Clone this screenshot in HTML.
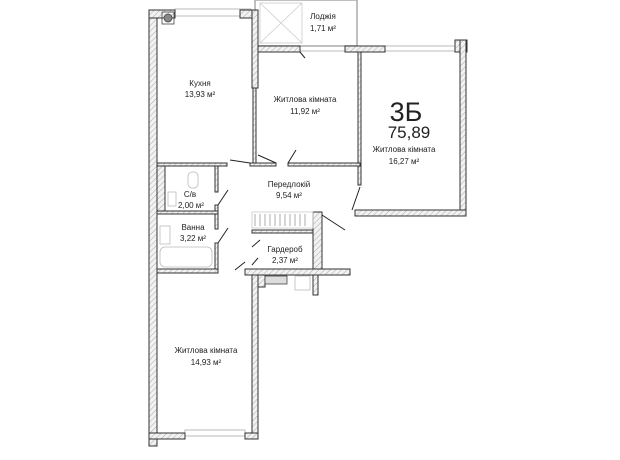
<!DOCTYPE html>
<html><head><meta charset="utf-8"><style>
html,body{margin:0;padding:0;background:#fff;}
svg{display:block}
text{font-family:"Liberation Sans",sans-serif;fill:#222;text-anchor:middle}
</style></head><body>
<svg width="620" height="460" viewBox="0 0 620 460" xmlns="http://www.w3.org/2000/svg">
<defs>
<pattern id="h" width="4" height="4" patternUnits="userSpaceOnUse" patternTransform="rotate(45)">
<rect width="4" height="4" fill="#f2f2f2"/><line x1="0" y1="0" x2="0" y2="4" stroke="#aaa" stroke-width="1"/></pattern>
</defs>
<g stroke="#555" stroke-width="0.8" fill="none">
<rect x="255" y="0" width="102" height="46" stroke="#aaa" stroke-width="1.5"/>
<rect x="260" y="3" width="42" height="40" stroke="#ccc"/>
<line x1="260" y1="3" x2="302" y2="43" stroke="#ccc"/><line x1="302" y1="3" x2="260" y2="43" stroke="#ccc"/>
<rect x="175" y="9" width="76" height="7" stroke="#aaa"/>
<rect x="300" y="46" width="60" height="5" stroke="#aaa"/>
<rect x="385" y="46" width="70" height="5" stroke="#aaa"/>
<rect x="185" y="430" width="60" height="6" stroke="#aaa"/>
</g>
<g stroke="#333" stroke-width="1" fill="url(#h)">
<rect x="149" y="10" width="8" height="436"/>
<rect x="149" y="10" width="26" height="8"/>
<rect x="240" y="10" width="18" height="8"/>
<rect x="252" y="10" width="6" height="78"/>
<rect x="258" y="46" width="42" height="6"/>
<rect x="345" y="46" width="40" height="6"/>
<rect x="455" y="40" width="12" height="12"/>
<rect x="460" y="40" width="6" height="176"/>
<rect x="355" y="210" width="111" height="6"/>
<rect x="253" y="88" width="3" height="77"/>
<rect x="358" y="52" width="3" height="133"/>
<rect x="250" y="163" width="26" height="3"/>
<rect x="288" y="163" width="72" height="3"/>
<rect x="157" y="163" width="70" height="3"/>
<rect x="157" y="166" width="8" height="45"/>
<rect x="215" y="166" width="3" height="26"/>
<rect x="215" y="205" width="3" height="24"/>
<rect x="157" y="211" width="61" height="3"/>
<rect x="215" y="243" width="3" height="28"/>
<rect x="157" y="269" width="61" height="4"/>
<rect x="252" y="273" width="6" height="160"/>
<rect x="149" y="433" width="36" height="6"/>
<rect x="245" y="433" width="13" height="6"/>
<rect x="252" y="230" width="61" height="3"/>
<rect x="313" y="212" width="9" height="60"/>
<rect x="245" y="269" width="105" height="6"/>
<rect x="258" y="275" width="7" height="12"/>
<rect x="313" y="275" width="5" height="20"/>
</g>
<g stroke="#444" stroke-width="0.8" fill="none">
<rect x="162" y="12" width="12" height="12"/><circle cx="168" cy="18" r="4" fill="#888"/>
<rect x="265" y="276" width="22" height="8" fill="#ddd"/>
<rect x="295" y="276" width="15" height="14" stroke="#bbb"/>
<rect x="188" y="172" width="10" height="16" rx="4" stroke="#bbb"/>
<rect x="168" y="192" width="8" height="14" stroke="#bbb"/>
<rect x="160" y="247" width="52" height="20" rx="5" stroke="#bbb"/>
<rect x="160" y="226" width="10" height="18" stroke="#bbb"/>
<rect x="252" y="212" width="61" height="16" stroke="#ccc"/>
<path d="M255 214 V226 M260 214 V226 M265 214 V226 M270 214 V226 M275 214 V226 M280 214 V226 M285 214 V226 M290 214 V226 M295 214 V226 M300 214 V226 M305 214 V226" stroke="#999"/>
<g stroke="#222" stroke-width="1">
<path d="M230 160 L250 163 M276 163 L258 155 M288 163 L296 150"/>
<path d="M228 190 L218 205 M228 228 L218 243 M245 262 L235 270"/>
<path d="M260 240 L252 247 M258 258 L252 265 M322 215 L345 230 M360 187 L352 210"/>
<path d="M300 52 L305 58"/>
</g>
</g>
<text x="200" y="86" font-size="8">Кухня</text>
<text x="200" y="97" font-size="8">13,93 м²</text>
<text x="305" y="102" font-size="8">Житлова кімната</text>
<text x="305" y="114" font-size="8">11,92 м²</text>
<text x="323" y="19" font-size="8">Лоджія</text>
<text x="323" y="31" font-size="8">1,71 м²</text>
<text x="406" y="121" font-size="27">3Б</text>
<text x="409" y="138" font-size="17">75,89</text>
<text x="404" y="152" font-size="8">Житлова кімната</text>
<text x="404" y="164" font-size="8">16,27 м²</text>
<text x="289" y="187" font-size="8">Передлокій</text>
<text x="289" y="198" font-size="8">9,54 м²</text>
<text x="190" y="197" font-size="8">С/в</text>
<text x="191" y="208" font-size="8">2,00 м²</text>
<text x="193" y="230" font-size="8">Ванна</text>
<text x="193" y="241" font-size="8">3,22 м²</text>
<text x="285" y="252" font-size="8">Гардероб</text>
<text x="285" y="263" font-size="8">2,37 м²</text>
<text x="206" y="353" font-size="8">Житлова кімната</text>
<text x="206" y="365" font-size="8">14,93 м²</text>
</svg>
</body></html>
